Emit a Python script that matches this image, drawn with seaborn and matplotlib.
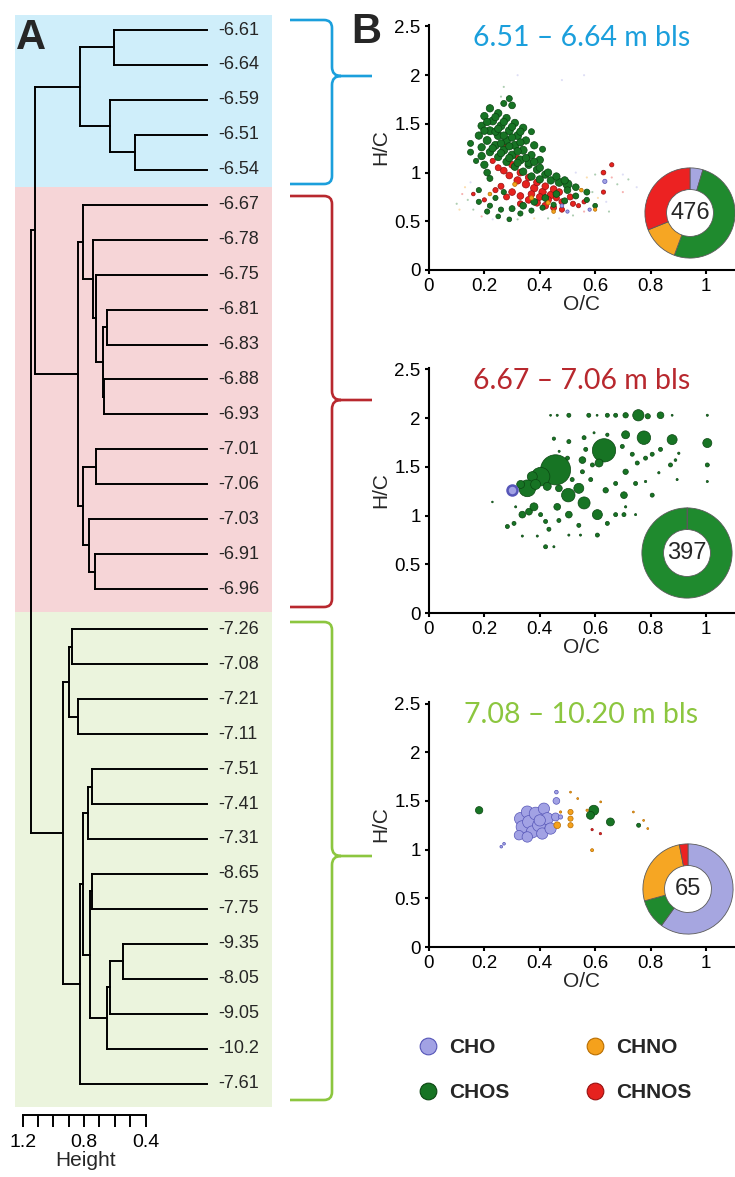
import matplotlib
matplotlib.use("Agg")
import matplotlib.pyplot as plt
from matplotlib.path import Path
from matplotlib.patches import PathPatch
from matplotlib.lines import Line2D
import numpy as np
import pandas as pd
import seaborn as sns

# ---------------------------------------------------------------- data
# Dendrogram leaves (sample depths, top to bottom) and their depth group
leaf_labels = ["-6.61", "-6.64", "-6.59", "-6.51", "-6.54",
               "-6.67", "-6.78", "-6.75", "-6.81", "-6.83", "-6.88", "-6.93",
               "-7.01", "-7.06", "-7.03", "-6.91", "-6.96",
               "-7.26", "-7.08", "-7.21", "-7.11", "-7.51", "-7.41", "-7.31",
               "-8.65", "-7.75", "-9.35", "-8.05", "-9.05", "-10.2", "-7.61"]
leaf_group = [0] * 5 + [1] * 12 + [2] * 14

# Linkage rows (child a, child b, merge height); ids < 31 are leaves,
# id 31 + k refers to row k.
linkage = [
    (0, 1, 0.604), (3, 4, 0.47), (2, 32, 0.63), (31, 33, 0.825),
    (8, 9, 0.65), (10, 11, 0.67), (35, 36, 0.68), (7, 37, 0.72),
    (6, 38, 0.74), (5, 39, 0.805), (12, 13, 0.72), (15, 16, 0.727),
    (14, 42, 0.766), (41, 43, 0.81), (40, 44, 0.838),
    (17, 18, 0.877), (19, 20, 0.838), (46, 47, 0.896), (21, 22, 0.747),
    (49, 23, 0.773), (24, 25, 0.747), (26, 27, 0.55), (52, 28, 0.63),
    (53, 29, 0.65), (51, 54, 0.76), (50, 55, 0.81), (56, 30, 0.83),
    (48, 57, 0.94),
    (34, 45, 1.117), (59, 58, 1.149),
]
height_ticks = [1.2, 1.1, 1.0, 0.9, 0.8, 0.7, 0.6, 0.5, 0.4]
height_ticklabels = ["1.2", "", "", "", "0.8", "", "", "", "0.4"]

group_titles = ["6.51 \u2013 6.64 m bls", "6.67 \u2013 7.06 m bls",
                "7.08 \u2013 10.20 m bls"]

classes = ["CHO", "CHOS", "CHNO", "CHNOS"]
donut_counts = [
    [22, 243, 63, 148],
    [1, 396, 0, 0],
    [39, 7, 17, 2],
]

oc_ticks = [0, 0.2, 0.4, 0.6, 0.8, 1]
oc_ticklabels = ["0", "0.2", "0.4", "0.6", "0.8", "1"]
hc_ticks = [0, 0.5, 1, 1.5, 2, 2.5]
hc_ticklabels = ["0", "0.5", "1", "1.5", "2", "2.5"]

# van Krevelen points: (O/C, H/C, relative abundance)
p1_chos = [
    (0.29, 1.76, 4), (0.30, 1.69, 5), (0.27, 1.71, 4),
    (0.22, 1.66, 6), (0.25, 1.61, 6), (0.28, 1.56, 6), (0.31, 1.51, 6), (0.34, 1.46, 6),
    (0.37, 1.42, 4),
    (0.20, 1.58, 6), (0.23, 1.53, 7), (0.26, 1.48, 7), (0.29, 1.43, 7),
    (0.32, 1.38, 7), (0.35, 1.33, 6), (0.38, 1.28, 6), (0.41, 1.24, 4),
    (0.19, 1.48, 6), (0.22, 1.43, 7), (0.25, 1.38, 7), (0.28, 1.33, 7), (0.31, 1.28, 7),
    (0.34, 1.23, 7), (0.37, 1.18, 6), (0.40, 1.13, 6),
    (0.18, 1.38, 6), (0.21, 1.33, 7), (0.24, 1.28, 7), (0.27, 1.23, 7), (0.30, 1.18, 7),
    (0.33, 1.13, 7), (0.36, 1.08, 6), (0.39, 1.03, 6), (0.42, 0.98, 6),
    (0.19, 1.26, 6), (0.22, 1.21, 6), (0.25, 1.16, 6), (0.28, 1.11, 6), (0.31, 1.06, 6),
    (0.34, 1.01, 6), (0.37, 0.96, 6), (0.40, 0.93, 6), (0.44, 0.92, 6), (0.47, 0.90, 7),
    (0.50, 0.88, 9),
    (0.36, 1.10, 6), (0.40, 1.05, 6), (0.43, 1.00, 6), (0.46, 0.96, 6), (0.49, 0.92, 6),
    (0.20, 1.43, 6), (0.21, 1.52, 6), (0.24, 1.42, 6), (0.27, 1.38, 6), (0.23, 1.25, 6),
    (0.26, 1.30, 6), (0.29, 1.27, 6), (0.32, 1.22, 6), (0.24, 1.57, 6), (0.27, 1.52, 6),
    (0.30, 1.47, 6), (0.33, 1.42, 6), (0.25, 1.45, 6), (0.30, 1.36, 6), (0.33, 1.31, 6),
    (0.26, 1.20, 6), (0.29, 1.15, 6), (0.32, 1.10, 6), (0.35, 1.15, 6), (0.38, 1.11, 6),
    (0.19, 1.17, 6), (0.20, 1.08, 6), (0.21, 1.00, 5), (0.22, 0.94, 4),
    (0.15, 1.30, 4), (0.15, 1.21, 4), (0.17, 1.12, 3),
    (0.30, 0.63, 4), (0.34, 0.66, 5), (0.38, 0.70, 5), (0.42, 0.74, 5), (0.46, 0.78, 5),
    (0.50, 0.82, 5), (0.53, 0.85, 5), (0.33, 0.58, 3), (0.37, 0.61, 3), (0.41, 0.64, 3),
    (0.45, 0.67, 3), (0.49, 0.71, 4), (0.53, 0.76, 4), (0.57, 0.72, 3), (0.57, 0.80, 4),
    (0.60, 0.66, 2.5), (0.26, 0.62, 3), (0.22, 0.66, 3), (0.18, 0.70, 3), (0.21, 0.60, 3),
    (0.25, 0.55, 2.5), (0.29, 0.52, 2.5), (0.18, 0.82, 3), (0.24, 0.74, 3), (0.27, 0.80, 3),
]
p1_chnos = [
    (0.27, 1.02, 5), (0.29, 0.97, 5), (0.30, 1.08, 5), (0.32, 0.92, 6), (0.33, 1.00, 5),
    (0.35, 0.88, 6), (0.36, 0.95, 5), (0.38, 0.84, 6), (0.39, 0.90, 5), (0.41, 0.80, 6),
    (0.42, 0.86, 5), (0.44, 0.77, 6), (0.45, 0.83, 5), (0.47, 0.80, 5), (0.30, 0.80, 5),
    (0.33, 0.76, 5), (0.36, 0.72, 5), (0.39, 0.69, 5), (0.42, 0.66, 5), (0.45, 0.64, 4),
    (0.48, 0.70, 4), (0.51, 0.75, 4), (0.48, 0.62, 3), (0.52, 0.68, 3), (0.26, 0.86, 4),
    (0.28, 0.75, 4), (0.24, 0.82, 3), (0.33, 0.68, 4), (0.37, 0.78, 5), (0.40, 0.75, 5),
    (0.43, 0.72, 5), (0.46, 0.74, 4), (0.23, 1.12, 3), (0.25, 1.05, 4), (0.28, 1.27, 3),
    (0.32, 1.15, 3), (0.63, 1.00, 2.5), (0.63, 0.80, 2), (0.66, 1.08, 2), (0.54, 0.66, 2),
    (0.56, 0.70, 2), (0.20, 0.72, 2), (0.16, 0.78, 1.5),
]
p1_chno = [
    (0.31, 0.88, 2), (0.37, 0.74, 2), (0.43, 0.69, 2), (0.22, 0.78, 1.5),
    (0.55, 0.82, 1.5), (0.60, 0.62, 1.2), (0.45, 0.60, 1.5),
]
p1_cho = [(0.635, 0.91, 2), (0.58, 0.62, 1.2), (0.48, 0.66, 1.5), (0.50, 0.60, 1.2)]
# faint low-intensity signals: (O/C, H/C, class)
p1_faint = [
    (0.10, 0.68, "CHOS"), (0.12, 0.78, "CHNOS"), (0.14, 0.72, "CHOS"), (0.11, 0.62, "CHNO"),
    (0.16, 0.62, "CHOS"), (0.19, 0.55, "CHNOS"), (0.23, 0.52, "CHO"), (0.32, 0.52, "CHOS"),
    (0.38, 0.53, "CHNO"), (0.43, 0.53, "CHOS"), (0.47, 0.53, "CHO"), (0.52, 0.56, "CHOS"),
    (0.56, 0.60, "CHNOS"), (0.59, 0.80, "CHOS"), (0.61, 0.74, "CHNO"), (0.64, 0.70, "CHO"),
    (0.66, 0.95, "CHNOS"), (0.68, 0.88, "CHOS"), (0.70, 0.98, "CHO"), (0.70, 0.80, "CHNOS"),
    (0.72, 0.93, "CHOS"), (0.75, 0.85, "CHO"), (0.60, 0.98, "CHOS"), (0.57, 0.95, "CHNO"),
    (0.53, 1.00, "CHO"), (0.32, 2.00, "CHO"), (0.27, 1.88, "CHOS"), (0.56, 2.00, "CHO"),
    (0.48, 1.95, "CHO"), (0.26, 1.78, "CHOS"), (0.65, 0.60, "CHOS"), (0.15, 0.90, "CHO"),
    (0.13, 0.85, "CHNO"),
]

p2_chos = [
    (0.439, 2.03, 0.4), (0.463, 2.03, 0.5), (0.505, 2.03, 1.8), (0.577, 2.03, 1.8),
    (0.607, 2.03, 0.4), (0.644, 2.03, 1.8), (0.674, 2.03, 1.8), (0.71, 2.03, 3.2),
    (0.756, 2.03, 14), (0.79, 2.02, 3), (0.836, 2.03, 5), (0.878, 2.03, 0.4), (1.005, 2.03, 0.5),
    (0.71, 1.83, 7), (0.776, 1.80, 20), (0.878, 1.78, 11), (1.005, 1.745, 9), (0.644, 1.83, 1.2),
    (0.596, 1.85, 0.5), (0.56, 1.80, 1.8), (0.505, 1.76, 1.8), (0.451, 1.79, 1.2),
    (0.632, 1.67, 60), (0.614, 1.54, 7), (0.566, 1.68, 1.8), (0.554, 1.57, 5), (0.50, 1.59, 1.8),
    (0.47, 1.66, 0.5), (0.698, 1.71, 1.8), (0.734, 1.63, 1.8), (0.71, 1.45, 3.2),
    (0.752, 1.54, 1.8), (0.782, 1.59, 1.8), (0.806, 1.63, 1.8), (0.836, 1.68, 1.8),
    (0.872, 1.52, 1.8), (0.89, 1.57, 0.8), (0.902, 1.64, 0.6), (1.005, 1.52, 1.8),
    (1.005, 1.35, 0.5), (0.896, 1.37, 0.5), (0.83, 1.44, 0.6),
    (0.457, 1.47, 100), (0.403, 1.40, 38), (0.373, 1.40, 11), (0.355, 1.28, 31),
    (0.385, 1.32, 11), (0.331, 1.32, 7), (0.427, 1.30, 7), (0.469, 1.28, 5), (0.503, 1.21, 20),
    (0.541, 1.28, 11), (0.56, 1.13, 16), (0.517, 1.37, 1.8), (0.554, 1.45, 1.8),
    (0.584, 1.37, 1.8), (0.608, 1.01, 11), (0.638, 1.26, 3.2), (0.674, 1.33, 1.8),
    (0.704, 1.21, 5), (0.746, 1.33, 1.8), (0.782, 1.35, 0.6), (0.806, 1.21, 1.8),
    (0.71, 1.09, 0.6), (0.674, 1.01, 1.8), (0.644, 0.92, 1.8), (0.704, 1.01, 1.8),
    (0.746, 1.01, 0.5), (0.59, 1.52, 1.8),
    (0.283, 0.888, 1.8), (0.307, 0.92, 1.8), (0.313, 1.09, 0.5), (0.337, 1.01, 5),
    (0.361, 1.04, 5), (0.379, 1.09, 7), (0.403, 1.01, 1.8), (0.421, 0.94, 1.8),
    (0.433, 0.86, 1.8), (0.463, 1.09, 5), (0.469, 0.95, 1.8), (0.505, 1.01, 5),
    (0.541, 0.90, 1.8), (0.505, 0.80, 0.5), (0.421, 0.68, 1.8), (0.451, 0.68, 0.5),
    (0.391, 0.79, 0.5), (0.337, 0.79, 0.5), (0.547, 0.80, 0.5), (0.608, 0.80, 1.8),
    (0.229, 1.14, 0.3),
]
p2_cho = [(0.301, 1.267, 11)]

p3_cho = [
    (0.331, 1.318, 17), (0.337, 1.233, 17), (0.355, 1.386, 16), (0.361, 1.284, 18),
    (0.373, 1.182, 16), (0.385, 1.37, 18), (0.397, 1.25, 18), (0.409, 1.165, 14),
    (0.415, 1.42, 14), (0.427, 1.318, 16), (0.439, 1.216, 14), (0.457, 1.335, 7),
    (0.325, 1.148, 10), (0.355, 1.13, 12), (0.46, 1.50, 5), (0.46, 1.59, 1.5),
    (0.475, 1.335, 2), (0.271, 1.06, 0.8), (0.261, 1.03, 0.8), (0.40, 1.30, 14),
]
p3_chno = [
    (0.463, 1.25, 5), (0.511, 1.386, 3), (0.511, 1.318, 3), (0.511, 1.25, 3),
    (0.475, 1.386, 0.6), (0.511, 1.59, 0.4), (0.537, 1.524, 0.4), (0.589, 0.994, 1),
    (0.62, 1.49, 0.4), (0.738, 1.386, 0.4), (0.775, 1.30, 0.4), (0.79, 1.216, 0.4),
    (0.571, 1.404, 0.6),
]
p3_chos = [(0.181, 1.404, 6), (0.595, 1.404, 11), (0.583, 1.352, 7), (0.655, 1.284, 7),
           (0.757, 1.25, 1.8)]
p3_chnos = [(0.589, 1.205, 0.6), (0.619, 1.164, 0.6)]

# ---------------------------------------------------------------- style
sns.set_theme(style="ticks")
plt.rcParams["font.family"] = ["Liberation Sans", "DejaVu Sans"]
plt.rcParams["axes.edgecolor"] = "black"
plt.rcParams["axes.linewidth"] = 1.5
plt.rcParams["xtick.color"] = "black"
plt.rcParams["ytick.color"] = "black"

group_colors = ["#1b9fdc", "#b8282e", "#8cc63f"]
band_colors = ["#cfeefa", "#f6d5d7", "#ebf4dd"]
face = {"CHO": "#a2a2e4", "CHOS": "#177424", "CHNO": "#f5a11c", "CHNOS": "#e6221e"}
edge = {"CHO": "#5656b8", "CHOS": "#0b4612", "CHNO": "#b86d00", "CHNOS": "#961010"}
donut_face = {"CHO": "#a6a6e0", "CHOS": "#1f8a2e", "CHNO": "#f6a623", "CHNOS": "#ec2222"}

W, H = 735, 1177
fig = plt.figure(figsize=(W / 100, H / 100), dpi=100)


def box(left, top, width, height):
    return [left / W, 1 - (top + height) / H, width / W, height / H]


# ---------------------------------------------------------------- A: dendrogram
axd = fig.add_axes(box(15, 15, 257, 1092))
n_leaves = len(leaf_labels)
leaf_y = np.arange(n_leaves) + 0.15 * (np.array(leaf_group) == 2)
node_y = list(leaf_y)
node_h = [0.0] * n_leaves
for a, b, h in linkage:
    for c in (a, b):
        axd.plot([node_h[c], h], [node_y[c], node_y[c]], color="black", lw=1.4,
                 solid_capstyle="projecting")
    axd.plot([h, h], [node_y[a], node_y[b]], color="black", lw=1.4,
             solid_capstyle="projecting")
    node_y.append((node_y[a] + node_y[b]) / 2)
    node_h.append(h)

bounds = [-0.43, 4.5, 16.65, 30.82]
for g in range(3):
    axd.axhspan(bounds[g], bounds[g + 1], color=band_colors[g], lw=0, zorder=0)
for y, lab in zip(leaf_y, leaf_labels):
    axd.text(-0.07, y, lab, ha="left", va="center", fontsize=13)
axd.set_xlim(1.25, -0.423)
axd.set_ylim(30.82, -0.43)
axd.axis("off")

# height scale
axh = fig.add_axes(box(15, 1114.5, 257, 0.5))
axh.set_xlim(1.25, -0.423)
axh.patch.set_alpha(0)
for s in ("top", "left", "right"):
    axh.spines[s].set_visible(False)
axh.spines["bottom"].set_bounds(0.4, 1.2)
axh.spines["bottom"].set_linewidth(1.4)
axh.set_yticks([])
axh.set_xticks(height_ticks)
axh.set_xticklabels(height_ticklabels)
axh.tick_params(axis="x", length=8.5, width=1.4, labelsize=14, pad=5)
axh.set_xlabel("Height", fontsize=15, labelpad=0)
axh.xaxis.label.set_x((1.25 - 0.79) / (1.25 + 0.423))

fig.text(31 / W, 1 - 38 / H, "A", fontsize=30, fontweight="bold", ha="center", va="center")
fig.text(366 / W, 1 - 32 / H, "B", fontsize=30, fontweight="bold", ha="center", va="center")


# ---------------------------------------------------------------- brackets
def brace(x0, xv, yt, yb, ym, xt, color):
    r, r2 = 8, 9
    pts = [(x0, yt), (xv - r, yt), (xv, yt), (xv, yt + r), (xv, ym - r2), (xv, ym),
           (xv + r2, ym), (xt, ym),
           (xv + r2, ym), (xv, ym), (xv, ym + r2), (xv, yb - r), (xv, yb), (xv - r, yb),
           (x0, yb)]
    codes = [Path.MOVETO, Path.LINETO, Path.CURVE3, Path.CURVE3, Path.LINETO, Path.CURVE3,
             Path.CURVE3, Path.LINETO,
             Path.MOVETO, Path.CURVE3, Path.CURVE3, Path.LINETO, Path.CURVE3, Path.CURVE3,
             Path.LINETO]
    verts = [(x / W, 1 - y / H) for x, y in pts]
    fig.add_artist(PathPatch(Path(verts, codes), fill=False, edgecolor=color, lw=1.9,
                             transform=fig.transFigure, capstyle="butt"))


brace(290, 332, 20, 184, 76, 372, group_colors[0])
brace(290, 332, 196, 607, 400, 372, group_colors[1])
brace(290, 332, 622, 1100, 856, 372, group_colors[2])


# ---------------------------------------------------------------- B: van Krevelen
def draw_layer(ax, pts, cls, alpha=1.0, lw=0.5):
    df = pd.DataFrame(pts, columns=["O/C", "H/C", "abund"])
    sns.scatterplot(data=df, x="O/C", y="H/C", size="abund", sizes=(0, 470),
                    size_norm=(0, 100), color=face[cls], edgecolor=edge[cls],
                    linewidth=lw, alpha=alpha, legend=False, ax=ax)


def donut(cx, cy, counts):
    R = 46
    axp = fig.add_axes(box(cx - R, cy - R, 2 * R, 2 * R))
    vals = [v for v in counts if v > 0]
    cols = [donut_face[c] for c, v in zip(classes, counts) if v > 0]
    axp.pie(vals, colors=cols, startangle=90, counterclock=False, radius=1,
            wedgeprops=dict(width=0.48, edgecolor="#5a5a5a", linewidth=0.6))
    axp.set_xlim(-1.02, 1.02)
    axp.set_ylim(-1.02, 1.02)
    axp.set_aspect("equal")
    axp.axis("off")
    axp.text(0, 0, str(sum(counts)), ha="center", va="center", fontsize=17)


panels = [
    (270, [("faint", p1_faint), ("CHNOS", p1_chnos), ("CHOS", p1_chos),
           ("CHNO", p1_chno), ("CHO", p1_cho)], (690, 213)),
    (613, [("CHOS", p2_chos), ("CHO", p2_cho)], (687, 553)),
    (947, [("CHOS", p3_chos), ("CHO", p3_cho), ("CHNO", p3_chno), ("CHNOS", p3_chnos)],
     (688, 889)),
]
px_per_hc = 97.4
for i, (bottom, layers, dcenter) in enumerate(panels):
    ylim_top = 2.52
    ax = fig.add_axes(box(429, bottom - ylim_top * px_per_hc, 306, ylim_top * px_per_hc))
    for cls, pts in layers:
        if cls == "faint":
            for c in classes:
                sub = [(x, y, 0.5) for x, y, k in pts if k == c]
                if sub:
                    draw_layer(ax, sub, c, alpha=0.35, lw=0)
        elif cls == "CHO" and i == 1:
            draw_layer(ax, pts, cls, lw=1.8)
        else:
            draw_layer(ax, pts, cls)
    ax.set_xlim(0, 1.105)
    ax.set_ylim(0, ylim_top)
    ax.set_xticks(oc_ticks)
    ax.set_xticklabels(oc_ticklabels)
    ax.set_yticks(hc_ticks)
    ax.set_yticklabels(hc_ticklabels)
    ax.tick_params(length=3, width=1.5, labelsize=13.5, pad=3)
    ax.set_xlabel("O/C", fontsize=15, labelpad=0)
    ax.set_ylabel("H/C", fontsize=15, labelpad=3)
    ax.patch.set_alpha(0)
    sns.despine(ax=ax)
    ax.text(0.55, 2.38, group_titles[i], color=group_colors[i], fontsize=20.5,
            family=["Lato", "DejaVu Sans"], ha="center", va="center")
    donut(dcenter[0], dcenter[1], donut_counts[i])

# ---------------------------------------------------------------- legend
handles = [Line2D([], [], linestyle="none", marker="o", markersize=12,
                  markerfacecolor=face[c], markeredgecolor=edge[c], markeredgewidth=0.8)
           for c in classes]
fig.legend(handles, classes, ncol=2, loc="upper left",
           bbox_to_anchor=(418 / W, 1 - 1038 / H), frameon=False, borderpad=0,
           borderaxespad=0, handlelength=1.0, handletextpad=0.5, columnspacing=3.6,
           labelspacing=1.25, prop=dict(weight="bold", size=15))

fig.savefig("out.png", dpi=100)
